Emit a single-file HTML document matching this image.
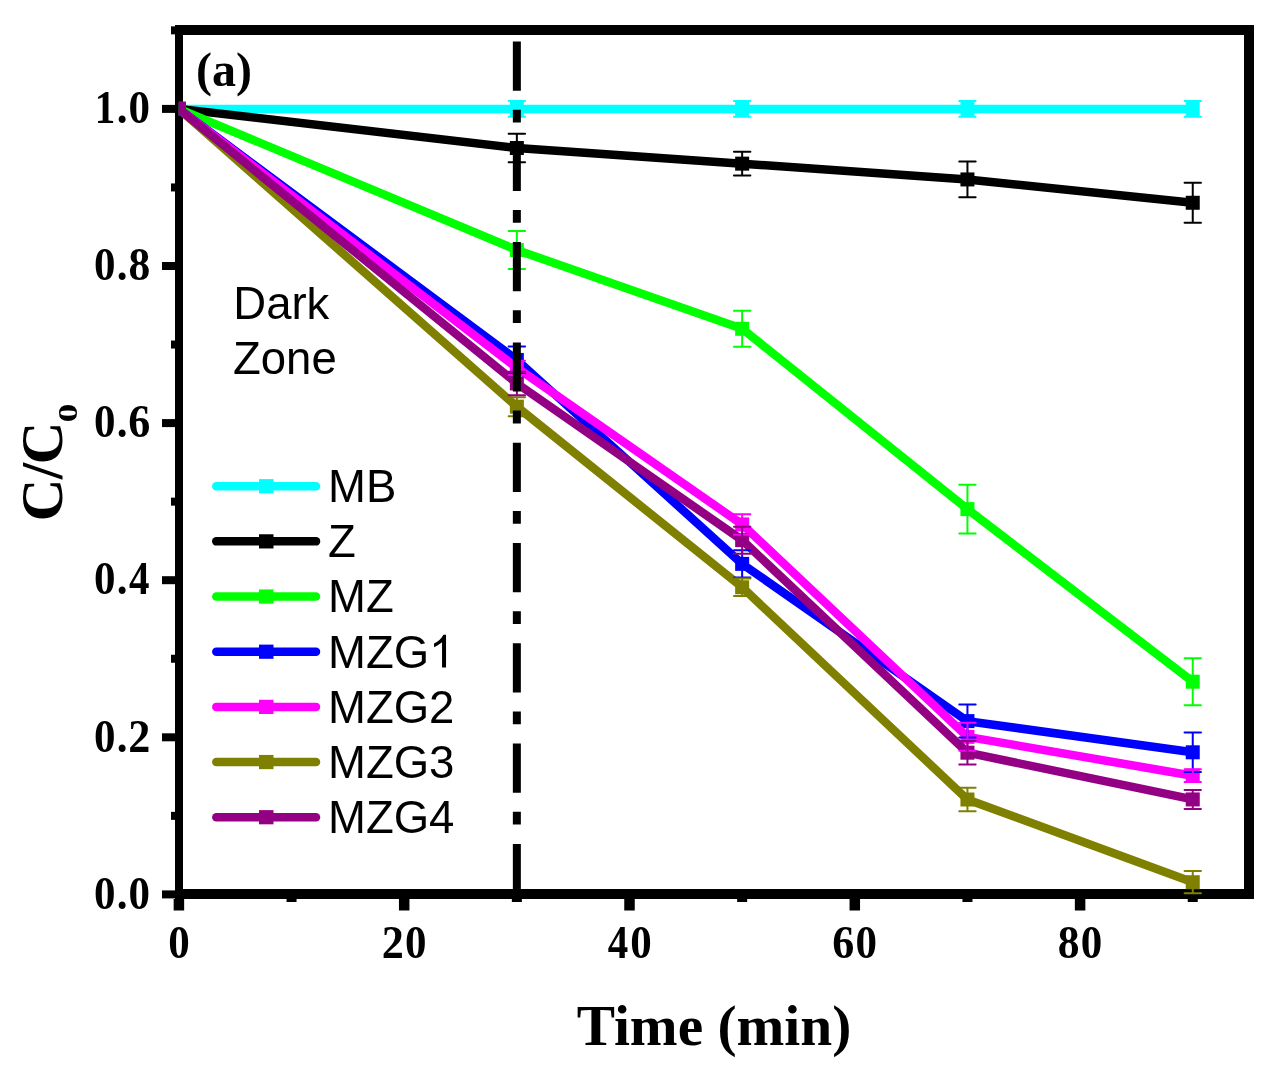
<!DOCTYPE html><html><head><meta charset="utf-8"><style>html,body{margin:0;padding:0;background:#fff;}svg{display:block;will-change:transform;}</style></head><body>
<svg width="1276" height="1076" viewBox="0 0 1276 1076">
<rect x="0" y="0" width="1276" height="1076" fill="#fff"/>
<defs><clipPath id="pc"><rect x="178.90" y="20.00" width="1080.17" height="875.40"/></clipPath></defs>
<g fill="#000">
<rect x="175" y="25" width="1079" height="10"/>
<rect x="175" y="889" width="1079" height="10"/>
<rect x="175" y="25" width="8" height="874"/>
<rect x="1244" y="25" width="10" height="874"/>
<rect x="162" y="890.40" width="13" height="8"/>
<rect x="171" y="811.85" width="4" height="8"/>
<rect x="162" y="733.30" width="13" height="8"/>
<rect x="171" y="654.75" width="4" height="8"/>
<rect x="162" y="576.20" width="13" height="8"/>
<rect x="171" y="497.65" width="4" height="8"/>
<rect x="162" y="419.10" width="13" height="8"/>
<rect x="171" y="340.55" width="4" height="8"/>
<rect x="162" y="262.00" width="13" height="8"/>
<rect x="171" y="183.45" width="4" height="8"/>
<rect x="162" y="104.90" width="13" height="8"/>
<rect x="171" y="26.35" width="4" height="8"/>
<rect x="173.65" y="899" width="10.5" height="11.5"/>
<rect x="286.55" y="899" width="10" height="3"/>
<rect x="398.95" y="899" width="10.5" height="11.5"/>
<rect x="511.85" y="899" width="10" height="3"/>
<rect x="624.25" y="899" width="10.5" height="11.5"/>
<rect x="737.15" y="899" width="10" height="3"/>
<rect x="849.55" y="899" width="10.5" height="11.5"/>
<rect x="962.45" y="899" width="10" height="3"/>
<rect x="1074.85" y="899" width="10.5" height="11.5"/>
<rect x="1187.75" y="899" width="10" height="3"/>
</g>
<g font-family="Liberation Serif" font-weight="bold" font-size="46" fill="#000">
<text transform="translate(104.80,908.60) scale(0.935,1)" x="-11.50">0</text>
<text transform="translate(122.05,908.60) scale(0.940,1)" x="-5.75">.</text>
<text transform="translate(139.30,908.60) scale(0.935,1)" x="-11.50">0</text>
<text transform="translate(104.80,751.50) scale(0.935,1)" x="-11.50">0</text>
<text transform="translate(122.05,751.50) scale(0.940,1)" x="-5.75">.</text>
<text transform="translate(139.28,751.50) scale(0.960,1)" x="-11.48">2</text>
<text transform="translate(104.80,594.40) scale(0.935,1)" x="-11.50">0</text>
<text transform="translate(122.05,594.40) scale(0.940,1)" x="-5.75">.</text>
<text transform="translate(139.19,594.40) scale(0.890,1)" x="-11.39">4</text>
<text transform="translate(104.80,437.30) scale(0.935,1)" x="-11.50">0</text>
<text transform="translate(122.05,437.30) scale(0.940,1)" x="-5.75">.</text>
<text transform="translate(139.41,437.30) scale(0.960,1)" x="-11.61">6</text>
<text transform="translate(104.80,280.20) scale(0.935,1)" x="-11.50">0</text>
<text transform="translate(122.05,280.20) scale(0.940,1)" x="-5.75">.</text>
<text transform="translate(139.30,280.20) scale(0.945,1)" x="-11.50">8</text>
<text transform="translate(105.45,123.10) scale(0.890,1)" x="-12.15">1</text>
<text transform="translate(122.05,123.10) scale(0.940,1)" x="-5.75">.</text>
<text transform="translate(139.30,123.10) scale(0.935,1)" x="-11.50">0</text>
<text transform="translate(178.90,958.00) scale(0.935,1)" x="-11.50">0</text>
<text transform="translate(392.68,958.00) scale(0.960,1)" x="-11.48">2</text>
<text transform="translate(415.70,958.00) scale(0.935,1)" x="-11.50">0</text>
<text transform="translate(617.89,958.00) scale(0.890,1)" x="-11.39">4</text>
<text transform="translate(641.00,958.00) scale(0.935,1)" x="-11.50">0</text>
<text transform="translate(843.41,958.00) scale(0.960,1)" x="-11.61">6</text>
<text transform="translate(866.30,958.00) scale(0.935,1)" x="-11.50">0</text>
<text transform="translate(1068.60,958.00) scale(0.945,1)" x="-11.50">8</text>
<text transform="translate(1091.60,958.00) scale(0.935,1)" x="-11.50">0</text>
</g>
<text x="714" y="1045.2" text-anchor="middle" font-family="Liberation Serif" font-weight="bold" font-size="57.4">Time (min)</text>
<text transform="translate(62.3,521.3) rotate(-90)" font-family="Liberation Serif" font-weight="bold" font-size="59">C<tspan dx="-0.5">/</tspan><tspan dx="-1.5">C</tspan></text>
<text transform="translate(77.0,422.5) rotate(-90) scale(1.37,1)" font-family="Liberation Serif" font-weight="bold" font-size="27.6">0</text>
<text x="196" y="86.1" font-family="Liberation Serif" font-weight="bold" font-size="48">(a)</text>
<g font-family="Liberation Sans" font-size="45.50" fill="#000">
<text transform="translate(233.30,318.75) scale(1,1.012)">Dar</text>
<text transform="translate(306.62,318.75) scale(1,0.961)">k</text>
<text transform="translate(233.00,374.30) scale(1,1.012)">Zone</text>
</g>
<g clip-path="url(#pc)">
<path d="M178.90,108.90 L516.85,108.90 L742.15,108.90 L967.45,108.90 L1192.75,108.90" fill="none" stroke="#00FFFF" stroke-width="8.50" stroke-linejoin="miter" stroke-linecap="butt"/>
<rect x="171.90" y="101.90" width="14" height="14" fill="#00FFFF"/>
<rect x="509.85" y="101.90" width="14" height="14" fill="#00FFFF"/>
<rect x="735.15" y="101.90" width="14" height="14" fill="#00FFFF"/>
<rect x="960.45" y="101.90" width="14" height="14" fill="#00FFFF"/>
<rect x="1185.75" y="101.90" width="14" height="14" fill="#00FFFF"/>
<path d="M178.90,108.90 L516.85,148.02 L742.15,163.65 L967.45,179.44 L1192.75,202.77" fill="none" stroke="#000000" stroke-width="8.50" stroke-linejoin="miter" stroke-linecap="butt"/>
<rect x="171.90" y="101.90" width="14" height="14" fill="#000000"/>
<rect x="509.85" y="141.02" width="14" height="14" fill="#000000"/>
<rect x="735.15" y="156.65" width="14" height="14" fill="#000000"/>
<rect x="960.45" y="172.44" width="14" height="14" fill="#000000"/>
<rect x="1185.75" y="195.77" width="14" height="14" fill="#000000"/>
<path d="M178.90,108.90 L516.85,250.05 L742.15,328.76 L967.45,509.11 L1192.75,681.69" fill="none" stroke="#00FF00" stroke-width="8.50" stroke-linejoin="miter" stroke-linecap="butt"/>
<rect x="171.90" y="101.90" width="14" height="14" fill="#00FF00"/>
<rect x="509.85" y="243.05" width="14" height="14" fill="#00FF00"/>
<rect x="735.15" y="321.76" width="14" height="14" fill="#00FF00"/>
<rect x="960.45" y="502.11" width="14" height="14" fill="#00FF00"/>
<rect x="1185.75" y="674.69" width="14" height="14" fill="#00FF00"/>
<path d="M178.90,108.90 L516.85,359.95 L742.15,563.86 L967.45,721.12 L1192.75,752.30" fill="none" stroke="#0000FF" stroke-width="8.50" stroke-linejoin="miter" stroke-linecap="butt"/>
<rect x="171.90" y="101.90" width="14" height="14" fill="#0000FF"/>
<rect x="509.85" y="352.95" width="14" height="14" fill="#0000FF"/>
<rect x="735.15" y="556.86" width="14" height="14" fill="#0000FF"/>
<rect x="960.45" y="714.12" width="14" height="14" fill="#0000FF"/>
<rect x="1185.75" y="745.30" width="14" height="14" fill="#0000FF"/>
<path d="M178.90,108.90 L516.85,367.80 L742.15,524.43 L967.45,736.83 L1192.75,775.71" fill="none" stroke="#FF00FF" stroke-width="8.50" stroke-linejoin="miter" stroke-linecap="butt"/>
<rect x="171.90" y="101.90" width="14" height="14" fill="#FF00FF"/>
<rect x="509.85" y="360.80" width="14" height="14" fill="#FF00FF"/>
<rect x="735.15" y="517.43" width="14" height="14" fill="#FF00FF"/>
<rect x="960.45" y="729.83" width="14" height="14" fill="#FF00FF"/>
<rect x="1185.75" y="768.71" width="14" height="14" fill="#FF00FF"/>
<path d="M178.90,108.90 L516.85,406.68 L742.15,587.27 L967.45,799.51 L1192.75,882.22" fill="none" stroke="#808000" stroke-width="8.50" stroke-linejoin="miter" stroke-linecap="butt"/>
<rect x="171.90" y="101.90" width="14" height="14" fill="#808000"/>
<rect x="509.85" y="399.68" width="14" height="14" fill="#808000"/>
<rect x="735.15" y="580.27" width="14" height="14" fill="#808000"/>
<rect x="960.45" y="792.51" width="14" height="14" fill="#808000"/>
<rect x="1185.75" y="875.22" width="14" height="14" fill="#808000"/>
<path d="M178.90,108.90 L516.85,383.43 L742.15,540.14 L967.45,752.70 L1192.75,799.43" fill="none" stroke="#940084" stroke-width="8.50" stroke-linejoin="miter" stroke-linecap="butt"/>
<rect x="171.90" y="101.90" width="14" height="14" fill="#940084"/>
<rect x="509.85" y="376.43" width="14" height="14" fill="#940084"/>
<rect x="735.15" y="533.14" width="14" height="14" fill="#940084"/>
<rect x="960.45" y="745.70" width="14" height="14" fill="#940084"/>
<rect x="1185.75" y="792.43" width="14" height="14" fill="#940084"/>
<g fill="#00FFFF"><rect x="515.85" y="101.00" width="2.00" height="15.80"/>
<rect x="507.65" y="100.00" width="18.40" height="2.00" rx="1"/>
<rect x="507.65" y="115.80" width="18.40" height="2.00" rx="1"/></g>
<g fill="#00FFFF"><rect x="741.15" y="101.00" width="2.00" height="15.80"/>
<rect x="732.95" y="100.00" width="18.40" height="2.00" rx="1"/>
<rect x="732.95" y="115.80" width="18.40" height="2.00" rx="1"/></g>
<g fill="#00FFFF"><rect x="966.45" y="101.00" width="2.00" height="15.80"/>
<rect x="958.25" y="100.00" width="18.40" height="2.00" rx="1"/>
<rect x="958.25" y="115.80" width="18.40" height="2.00" rx="1"/></g>
<g fill="#00FFFF"><rect x="1191.75" y="101.00" width="2.00" height="15.80"/>
<rect x="1183.55" y="100.00" width="18.40" height="2.00" rx="1"/>
<rect x="1183.55" y="115.80" width="18.40" height="2.00" rx="1"/></g>
<g fill="#000000"><rect x="515.85" y="133.67" width="2.00" height="28.70"/>
<rect x="507.65" y="132.67" width="18.40" height="2.00" rx="1"/>
<rect x="507.65" y="161.37" width="18.40" height="2.00" rx="1"/></g>
<g fill="#000000"><rect x="741.15" y="151.80" width="2.00" height="23.70"/>
<rect x="732.95" y="150.80" width="18.40" height="2.00" rx="1"/>
<rect x="732.95" y="174.50" width="18.40" height="2.00" rx="1"/></g>
<g fill="#000000"><rect x="966.45" y="161.59" width="2.00" height="35.70"/>
<rect x="958.25" y="160.59" width="18.40" height="2.00" rx="1"/>
<rect x="958.25" y="196.29" width="18.40" height="2.00" rx="1"/></g>
<g fill="#000000"><rect x="1191.75" y="182.87" width="2.00" height="39.80"/>
<rect x="1183.55" y="181.87" width="18.40" height="2.00" rx="1"/>
<rect x="1183.55" y="221.67" width="18.40" height="2.00" rx="1"/></g>
<g fill="#00FF00"><rect x="515.85" y="231.00" width="2.00" height="38.10"/>
<rect x="507.65" y="230.00" width="18.40" height="2.00" rx="1"/>
<rect x="507.65" y="268.10" width="18.40" height="2.00" rx="1"/></g>
<g fill="#00FF00"><rect x="741.15" y="310.66" width="2.00" height="36.20"/>
<rect x="732.95" y="309.66" width="18.40" height="2.00" rx="1"/>
<rect x="732.95" y="345.86" width="18.40" height="2.00" rx="1"/></g>
<g fill="#00FF00"><rect x="966.45" y="484.66" width="2.00" height="48.90"/>
<rect x="958.25" y="483.66" width="18.40" height="2.00" rx="1"/>
<rect x="958.25" y="532.56" width="18.40" height="2.00" rx="1"/></g>
<g fill="#00FF00"><rect x="1191.75" y="658.14" width="2.00" height="47.10"/>
<rect x="1183.55" y="657.14" width="18.40" height="2.00" rx="1"/>
<rect x="1183.55" y="704.24" width="18.40" height="2.00" rx="1"/></g>
<g fill="#0000FF"><rect x="515.85" y="346.50" width="2.00" height="26.90"/>
<rect x="507.65" y="345.50" width="18.40" height="2.00" rx="1"/>
<rect x="507.65" y="372.40" width="18.40" height="2.00" rx="1"/></g>
<g fill="#0000FF"><rect x="741.15" y="550.16" width="2.00" height="27.40"/>
<rect x="732.95" y="549.16" width="18.40" height="2.00" rx="1"/>
<rect x="732.95" y="576.56" width="18.40" height="2.00" rx="1"/></g>
<g fill="#0000FF"><rect x="966.45" y="704.62" width="2.00" height="33.00"/>
<rect x="958.25" y="703.62" width="18.40" height="2.00" rx="1"/>
<rect x="958.25" y="736.62" width="18.40" height="2.00" rx="1"/></g>
<g fill="#0000FF"><rect x="1191.75" y="732.50" width="2.00" height="39.60"/>
<rect x="1183.55" y="731.50" width="18.40" height="2.00" rx="1"/>
<rect x="1183.55" y="771.10" width="18.40" height="2.00" rx="1"/></g>
<g fill="#FF00FF"><rect x="515.85" y="360.70" width="2.00" height="14.20"/>
<rect x="507.65" y="359.70" width="18.40" height="2.00" rx="1"/>
<rect x="507.65" y="373.90" width="18.40" height="2.00" rx="1"/></g>
<g fill="#FF00FF"><rect x="741.15" y="514.13" width="2.00" height="20.60"/>
<rect x="732.95" y="513.13" width="18.40" height="2.00" rx="1"/>
<rect x="732.95" y="533.73" width="18.40" height="2.00" rx="1"/></g>
<g fill="#FF00FF"><rect x="966.45" y="722.83" width="2.00" height="28.00"/>
<rect x="958.25" y="721.83" width="18.40" height="2.00" rx="1"/>
<rect x="958.25" y="749.83" width="18.40" height="2.00" rx="1"/></g>
<g fill="#FF00FF"><rect x="1191.75" y="769.31" width="2.00" height="12.80"/>
<rect x="1183.55" y="768.31" width="18.40" height="2.00" rx="1"/>
<rect x="1183.55" y="781.11" width="18.40" height="2.00" rx="1"/></g>
<g fill="#808000"><rect x="515.85" y="397.18" width="2.00" height="19.00"/>
<rect x="507.65" y="396.18" width="18.40" height="2.00" rx="1"/>
<rect x="507.65" y="415.18" width="18.40" height="2.00" rx="1"/></g>
<g fill="#808000"><rect x="741.15" y="578.57" width="2.00" height="17.40"/>
<rect x="732.95" y="577.57" width="18.40" height="2.00" rx="1"/>
<rect x="732.95" y="594.97" width="18.40" height="2.00" rx="1"/></g>
<g fill="#808000"><rect x="966.45" y="787.76" width="2.00" height="23.50"/>
<rect x="958.25" y="786.76" width="18.40" height="2.00" rx="1"/>
<rect x="958.25" y="810.26" width="18.40" height="2.00" rx="1"/></g>
<g fill="#808000"><rect x="1191.75" y="871.12" width="2.00" height="22.20"/>
<rect x="1183.55" y="870.12" width="18.40" height="2.00" rx="1"/>
<rect x="1183.55" y="892.32" width="18.40" height="2.00" rx="1"/></g>
<g fill="#940084"><rect x="515.85" y="371.73" width="2.00" height="23.40"/>
<rect x="507.65" y="370.73" width="18.40" height="2.00" rx="1"/>
<rect x="507.65" y="394.13" width="18.40" height="2.00" rx="1"/></g>
<g fill="#940084"><rect x="741.15" y="526.64" width="2.00" height="27.00"/>
<rect x="732.95" y="525.64" width="18.40" height="2.00" rx="1"/>
<rect x="732.95" y="552.64" width="18.40" height="2.00" rx="1"/></g>
<g fill="#940084"><rect x="966.45" y="740.90" width="2.00" height="23.60"/>
<rect x="958.25" y="739.90" width="18.40" height="2.00" rx="1"/>
<rect x="958.25" y="763.50" width="18.40" height="2.00" rx="1"/></g>
<g fill="#940084"><rect x="1191.75" y="789.88" width="2.00" height="19.10"/>
<rect x="1183.55" y="788.88" width="18.40" height="2.00" rx="1"/>
<rect x="1183.55" y="807.98" width="18.40" height="2.00" rx="1"/></g>
</g>
<line x1="516.85" y1="41.5" x2="516.85" y2="889" stroke="#000" stroke-width="8" stroke-dasharray="49.2 19 12.8 19.3"/>
<g>
<line x1="216.3" y1="486.20" x2="316" y2="486.20" stroke="#00FFFF" stroke-width="8.5" stroke-linecap="round"/>
<rect x="259" y="479.10" width="14.5" height="14.2" fill="#00FFFF"/>
<line x1="216.3" y1="541.37" x2="316" y2="541.37" stroke="#000000" stroke-width="8.5" stroke-linecap="round"/>
<rect x="259" y="534.27" width="14.5" height="14.2" fill="#000000"/>
<line x1="216.3" y1="596.54" x2="316" y2="596.54" stroke="#00FF00" stroke-width="8.5" stroke-linecap="round"/>
<rect x="259" y="589.44" width="14.5" height="14.2" fill="#00FF00"/>
<line x1="216.3" y1="651.71" x2="316" y2="651.71" stroke="#0000FF" stroke-width="8.5" stroke-linecap="round"/>
<rect x="259" y="644.61" width="14.5" height="14.2" fill="#0000FF"/>
<line x1="216.3" y1="706.88" x2="316" y2="706.88" stroke="#FF00FF" stroke-width="8.5" stroke-linecap="round"/>
<rect x="259" y="699.78" width="14.5" height="14.2" fill="#FF00FF"/>
<line x1="216.3" y1="762.05" x2="316" y2="762.05" stroke="#808000" stroke-width="8.5" stroke-linecap="round"/>
<rect x="259" y="754.95" width="14.5" height="14.2" fill="#808000"/>
<line x1="216.3" y1="817.22" x2="316" y2="817.22" stroke="#940084" stroke-width="8.5" stroke-linecap="round"/>
<rect x="259" y="810.12" width="14.5" height="14.2" fill="#940084"/>
</g>
<g font-family="Liberation Sans" font-size="45.50" fill="#000">
<text transform="translate(328.00,502.10) scale(1,1.012)">MB</text>
<text transform="translate(328.00,557.27) scale(1,1.012)">Z</text>
<text transform="translate(328.00,612.44) scale(1,1.012)">MZ</text>
<text transform="translate(328.00,667.61) scale(1,1.012)">MZG</text>
<text transform="translate(328.00,722.78) scale(1,1.012)">MZG2</text>
<text transform="translate(328.00,777.95) scale(1,1.012)">MZG3</text>
<text transform="translate(328.00,833.12) scale(1,1.012)">MZG4</text>
</g>
<path transform="translate(429.09,667.610) scale(0.02222,-0.02248)" d="M763 0 L583 0 L583 1130 C520 1075 380 985 223 905 L223 1072 C390 1160 560 1290 646 1466 L763 1466 Z" fill="#000"/>
</svg></body></html>
